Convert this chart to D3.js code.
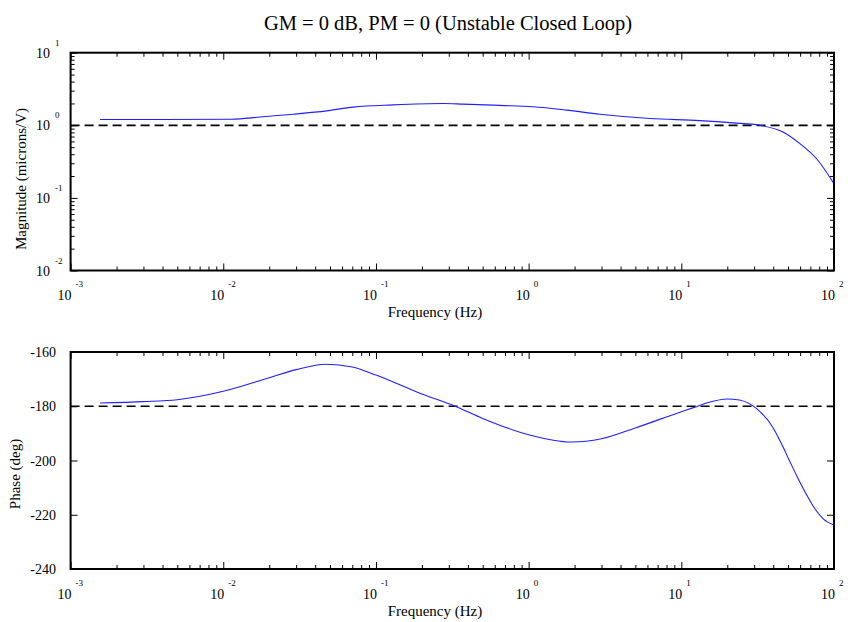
<!DOCTYPE html>
<html>
<head>
<meta charset="utf-8">
<script src="https://cdn.jsdelivr.net/npm/d3@7"></script>
<style>
  html, body { margin: 0; padding: 0; background: #fff; }
  svg { display: block; font-family: "Liberation Serif", "Times New Roman", serif; }
</style>
</head>
<body>
<svg id="chart" width="848" height="622"></svg>
<script>
// Open-loop frequency response samples
const magFreq = [0.00156, 0.0039, 0.0114, 0.0174, 0.0287, 0.0475, 0.071, 0.13, 0.276, 0.373, 0.649, 1.07, 1.77, 2.93, 6.23, 13.2, 21.8, 32.7, 46.3, 59.8, 76.9, 100];
const magValues = [1.20, 1.20, 1.21, 1.30, 1.42, 1.58, 1.78, 1.91, 2.00, 1.96, 1.88, 1.80, 1.62, 1.42, 1.24, 1.16, 1.08, 1.00, 0.81, 0.56, 0.346, 0.157];

const phaseFreq = [0.00156, 0.003, 0.005, 0.01, 0.02, 0.03, 0.047, 0.07, 0.1, 0.2, 0.33, 0.5, 1.0, 1.9, 3, 5, 10, 12, 15, 20, 24, 31, 40, 45, 51, 58, 66, 75, 85, 100];
const phaseValues = [-178.8, -178.3, -177.6, -174.5, -169.5, -166.5, -164.5, -165.5, -168.5, -175.5, -180, -184.5, -190.5, -193.2, -192, -188, -182, -180.5, -178.6, -177.3, -177.7, -180.8, -188, -193.5, -200, -206.5, -212.5, -217.8, -221.5, -223.8];

// Axis tick labels
const freqDecades = [-3, -2, -1, 0, 1, 2];
const magDecades = [-2, -1, 0, 1];
const phaseTicks = [-160, -180, -200, -220, -240];

const titleText = "GM = 0 dB, PM = 0 (Unstable Closed Loop)";
const xLabelText = "Frequency (Hz)";
const magLabelText = "Magnitude (microns/V)";
const phaseLabelText = "Phase (deg)";

const svg = d3.select("#chart");
const left = 70.6, right = 834;
const magTop = 52.7, magBottom = 270.5;
const phTop = 352, phBottom = 569;

const x = d3.scaleLog().domain([1e-3, 1e2]).range([left, right]);
const yMag = d3.scaleLog().domain([1e-2, 1e1]).range([magBottom, magTop]);
const yPh = d3.scaleLinear().domain([-240, -160]).range([phBottom, phTop]);

// major and minor positions for log axes
function minorTicks(decs) {
  const out = [];
  for (let i = 0; i < decs.length - 1; i++)
    for (let k = 2; k <= 9; k++) out.push(k * Math.pow(10, decs[i]));
  return out;
}
const xMajor = freqDecades.map(d => Math.pow(10, d));
const xMinor = minorTicks(freqDecades);
const magMajor = magDecades.map(d => Math.pow(10, d));
const magMinor = minorTicks(magDecades);

const MAJ = 7, MIN = 4;

function drawTicks(g, axisFn, scale, values, size, transform) {
  g.append("g")
    .attr("transform", transform)
    .call(axisFn(scale).tickValues(values).tickSizeInner(-size).tickSizeOuter(0).tickFormat(""))
    .call(s => s.select(".domain").remove())
    .call(s => s.selectAll("line").attr("stroke", "#000").attr("stroke-width", 1));
}

function frame(top, bottom) {
  svg.append("rect")
    .attr("x", left).attr("y", top)
    .attr("width", right - left).attr("height", bottom - top)
    .attr("fill", "none").attr("stroke", "#000").attr("stroke-width", 2);
}

function powerLabelX(g, dec, yBase) {
  const px = x(Math.pow(10, dec));
  g.append("text").attr("x", px + 1).attr("y", yBase)
    .attr("text-anchor", "end").attr("font-size", 14).text("10");
  g.append("text").attr("x", px + 5).attr("y", yBase - 13)
    .attr("font-size", 9).text(String(dec));
}

function powerLabelY(g, dec) {
  const py = yMag(Math.pow(10, dec));
  g.append("text").attr("x", 50).attr("y", py + 5)
    .attr("text-anchor", "end").attr("font-size", 14).text("10");
  g.append("text").attr("x", 55).attr("y", py - 7)
    .attr("font-size", 9).text(String(dec));
}

const xLabelX = 435;

// ---------- Magnitude panel ----------
const gMag = svg.append("g");
drawTicks(gMag, d3.axisBottom, x, xMajor, MAJ, `translate(0,${magBottom})`);
drawTicks(gMag, d3.axisBottom, x, xMinor, MIN, `translate(0,${magBottom})`);
drawTicks(gMag, d3.axisTop, x, xMajor, MAJ, `translate(0,${magTop})`);
drawTicks(gMag, d3.axisTop, x, xMinor, MIN, `translate(0,${magTop})`);
drawTicks(gMag, d3.axisLeft, yMag, magMajor, MAJ, `translate(${left},0)`);
drawTicks(gMag, d3.axisLeft, yMag, magMinor, MIN, `translate(${left},0)`);
drawTicks(gMag, d3.axisRight, yMag, magMajor, MAJ, `translate(${right},0)`);
drawTicks(gMag, d3.axisRight, yMag, magMinor, MIN, `translate(${right},0)`);

gMag.append("line")
  .attr("x1", left).attr("x2", right)
  .attr("y1", yMag(1)).attr("y2", yMag(1))
  .attr("stroke", "#000").attr("stroke-width", 1.7).attr("stroke-dasharray", "9,5");

const magLine = d3.line()
  .x((d, i) => x(magFreq[i]))
  .y(d => yMag(d))
  .curve(d3.curveMonotoneX);
gMag.append("path").datum(magValues)
  .attr("d", magLine).attr("fill", "none")
  .attr("stroke", "#1f1fff").attr("stroke-width", 1.1);

frame(magTop, magBottom);
freqDecades.forEach(d => powerLabelX(gMag, d, 300));
magDecades.forEach(d => powerLabelY(gMag, d));

gMag.append("text").attr("x", xLabelX).attr("y", 317)
  .attr("text-anchor", "middle").attr("font-size", 15).text(xLabelText);
gMag.append("text")
  .attr("transform", "translate(26,179) rotate(-90)")
  .attr("text-anchor", "middle").attr("font-size", 15).text(magLabelText);

// ---------- Phase panel ----------
const gPh = svg.append("g");
drawTicks(gPh, d3.axisBottom, x, xMajor, MAJ, `translate(0,${phBottom})`);
drawTicks(gPh, d3.axisBottom, x, xMinor, MIN, `translate(0,${phBottom})`);
drawTicks(gPh, d3.axisTop, x, xMajor, MAJ, `translate(0,${phTop})`);
drawTicks(gPh, d3.axisTop, x, xMinor, MIN, `translate(0,${phTop})`);
drawTicks(gPh, d3.axisLeft, yPh, phaseTicks, MAJ, `translate(${left},0)`);
drawTicks(gPh, d3.axisRight, yPh, phaseTicks, MAJ, `translate(${right},0)`);

gPh.append("line")
  .attr("x1", left).attr("x2", right)
  .attr("y1", yPh(-180)).attr("y2", yPh(-180))
  .attr("stroke", "#000").attr("stroke-width", 1.7).attr("stroke-dasharray", "9,5");

const phLine = d3.line()
  .x((d, i) => x(phaseFreq[i]))
  .y(d => yPh(d))
  .curve(d3.curveMonotoneX);
gPh.append("path").datum(phaseValues)
  .attr("d", phLine).attr("fill", "none")
  .attr("stroke", "#1f1fff").attr("stroke-width", 1.1);

frame(phTop, phBottom);
freqDecades.forEach(d => powerLabelX(gPh, d, 300 + (phBottom - magBottom)));
phaseTicks.forEach(v => {
  gPh.append("text").attr("x", 56).attr("y", yPh(v) + 5)
    .attr("text-anchor", "end").attr("font-size", 14).text(String(v));
});

gPh.append("text").attr("x", xLabelX).attr("y", 317 + (phBottom - magBottom))
  .attr("text-anchor", "middle").attr("font-size", 15).text(xLabelText);
gPh.append("text")
  .attr("transform", "translate(20,474) rotate(-90)")
  .attr("text-anchor", "middle").attr("font-size", 15).text(phaseLabelText);

// ---------- Title ----------
svg.append("text").attr("x", 448).attr("y", 30)
  .attr("text-anchor", "middle").attr("font-size", 20.5).text(titleText);
</script>
</body>
</html>
